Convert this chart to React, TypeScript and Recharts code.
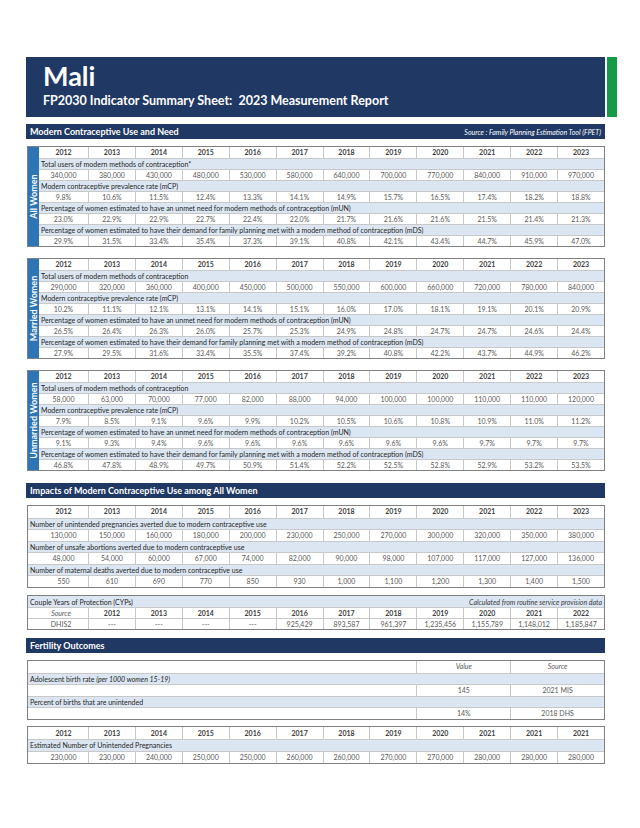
import React from 'react';
import { Surface, Text } from 'recharts';

const years = ['2012', '2013', '2014', '2015', '2016', '2017', '2018', '2019', '2020', '2021', '2022', '2023'];

const allUsers = [340000, 380000, 430000, 480000, 530000, 580000, 640000, 700000, 770000, 840000, 910000, 970000];
const allMcp = [9.8, 10.6, 11.5, 12.4, 13.3, 14.1, 14.9, 15.7, 16.5, 17.4, 18.2, 18.8];
const allMun = [23.0, 22.9, 22.9, 22.7, 22.4, 22.0, 21.7, 21.6, 21.6, 21.5, 21.4, 21.3];
const allMds = [29.9, 31.5, 33.4, 35.4, 37.3, 39.1, 40.8, 42.1, 43.4, 44.7, 45.9, 47.0];

const marUsers = [290000, 320000, 360000, 400000, 450000, 500000, 550000, 600000, 660000, 720000, 780000, 840000];
const marMcp = [10.2, 11.1, 12.1, 13.1, 14.1, 15.1, 16.0, 17.0, 18.1, 19.1, 20.1, 20.9];
const marMun = [26.5, 26.4, 26.3, 26.0, 25.7, 25.3, 24.9, 24.8, 24.7, 24.7, 24.6, 24.4];
const marMds = [27.9, 29.5, 31.6, 33.4, 35.5, 37.4, 39.2, 40.8, 42.2, 43.7, 44.9, 46.2];

const unmUsers = [58000, 63000, 70000, 77000, 82000, 88000, 94000, 100000, 100000, 110000, 110000, 120000];
const unmMcp = [7.9, 8.5, 9.1, 9.6, 9.9, 10.2, 10.5, 10.6, 10.8, 10.9, 11.0, 11.2];
const unmMun = [9.1, 9.3, 9.4, 9.6, 9.6, 9.6, 9.6, 9.6, 9.6, 9.7, 9.7, 9.7];
const unmMds = [46.8, 47.8, 48.9, 49.7, 50.9, 51.4, 52.2, 52.5, 52.8, 52.9, 53.2, 53.5];

const pregAverted = [130000, 150000, 160000, 180000, 200000, 230000, 250000, 270000, 300000, 320000, 350000, 380000];
const abortAverted = [48000, 54000, 60000, 67000, 74000, 82000, 90000, 98000, 107000, 117000, 127000, 136000];
const deathsAverted = [550, 610, 690, 770, 850, 930, 1000, 1100, 1200, 1300, 1400, 1500];

const cypYears = ['2012', '2013', '2014', '2015', '2016', '2017', '2018', '2019', '2020', '2021', '2022'];
const cypValues = [null, null, null, null, 925429, 893587, 961397, 1235456, 1155789, 1148012, 1185847];

const unintYears = ['2012', '2013', '2014', '2015', '2016', '2017', '2018', '2019', '2020', '2021', '2021', '2021'];
const unintPreg = [230000, 230000, 240000, 250000, 250000, 260000, 260000, 270000, 270000, 280000, 280000, 280000];

const NAVY = '#1f3864';
const LIGHT = '#dce6f2';
const GRID = '#c8c8c8';
const FONT = 'Lato, "Open Sans", sans-serif';
const LEFT = 27;
const WIDTH = 578;
const FIRST = 60;
const COL = (WIDTH - 2 - FIRST) / 11;

const num = (v: number) => v.toLocaleString('en-US');
const pct = (v: number) => v.toFixed(1) + '%';

function SectionBar({ top, title, note }: { top: number; title: string; note?: string }) {
  return (
    <div style={{ position: 'absolute', left: 26, top, width: 579, height: 15, background: NAVY, color: '#fff', display: 'flex', alignItems: 'center', justifyContent: 'space-between', boxSizing: 'border-box', padding: '0 4px' }}>
      <span style={{ fontSize: 9, fontWeight: 700 }}>{title}</span>
      {note && <span style={{ fontSize: 7, fontStyle: 'italic' }}>{note}</span>}
    </div>
  );
}

// 12 cells: the first one is wider (it sits over the side label gutter)
function ValueRow({ values, h, bold, color, top }: { values: string[]; h: number; bold?: boolean; color?: string; top?: boolean }) {
  return (
    <div style={{ display: 'flex', height: h, background: '#fff', borderTop: top ? 'none' : `1px solid ${GRID}`, boxSizing: 'border-box' }}>
      {values.map((v, i) => (
        <div key={i} style={{ flex: 'none', width: i === 0 ? FIRST : COL, paddingLeft: i === 0 ? 11 : 0, boxSizing: 'border-box', borderLeft: i === 0 ? 'none' : `1px solid ${GRID}`, textAlign: 'center', lineHeight: `${h - (top ? 0 : 1)}px`, fontSize: 7, fontWeight: bold ? 700 : 400, color: color ?? '#595959', whiteSpace: 'nowrap' }}>
          {v}
        </div>
      ))}
    </div>
  );
}

function LabelRow({ text, h, children, pad = 2 }: { text?: string; h: number; children?: React.ReactNode; pad?: number }) {
  return (
    <div style={{ height: h, background: LIGHT, borderTop: `1px solid ${GRID}`, boxSizing: 'border-box', paddingLeft: pad, fontSize: 7, lineHeight: `${h - 1}px`, color: '#262626', whiteSpace: 'nowrap' }}>
      {text}
      {children}
    </div>
  );
}

function GroupTable({ top, label, users, mcp, mun, mds, star }: { top: number; label: string; users: number[]; mcp: number[]; mun: number[]; mds: number[]; star?: boolean }) {
  const h = 11;
  const inner = h * 9;
  return (
    <div style={{ position: 'absolute', left: LEFT, top, width: WIDTH, height: inner + 2, border: '1px solid #808080', boxSizing: 'border-box' }}>
      <ValueRow values={years} h={h} bold color="#404040" top />
      <LabelRow h={h} pad={13} text={'Total users of modern methods of contraception' + (star ? '*' : '')} />
      <ValueRow values={users.map(num)} h={h} />
      <LabelRow h={h} pad={13} text="Modern contraceptive prevalence rate (mCP)" />
      <ValueRow values={mcp.map(pct)} h={h} />
      <LabelRow h={h} pad={13} text="Percentage of women estimated to have an unmet need  for modern methods of contraception (mUN)" />
      <ValueRow values={mun.map(pct)} h={h} />
      <LabelRow h={h} pad={13} text="Percentage of women estimated to have their demand for family planning met with a modern method of contraception (mDS)" />
      <ValueRow values={mds.map(pct)} h={h} />
      <div style={{ position: 'absolute', left: 0, top: 0, width: 11, height: inner, background: '#2e75b6' }}>
        <Surface width={11} height={inner}>
          <Text x={5.5} y={inner / 2} angle={-90} textAnchor="middle" verticalAnchor="middle" fill="#fff" fontSize={9} fontWeight={700} fontFamily={FONT}>
            {label}
          </Text>
        </Surface>
      </div>
    </div>
  );
}

export default function App() {
  const ih = 11.5;
  const cell = (i: number): React.CSSProperties => ({ flex: 'none', width: i === 0 ? FIRST : COL, paddingLeft: i === 0 ? 6 : 0, borderLeft: i === 0 ? 'none' : `1px solid ${GRID}`, textAlign: 'center', fontSize: 7, lineHeight: '10px', boxSizing: 'border-box' });
  return (
    <div style={{ position: 'absolute', left: 0, top: 0, width: 640, height: 828, background: '#fff', fontFamily: FONT, overflow: 'hidden' }}>
      <div style={{ position: 'absolute', left: 26, top: 57, width: 579, height: 60, background: NAVY, color: '#fff' }}>
        <div style={{ position: 'absolute', left: 17, top: 2, fontSize: 27, fontWeight: 700 }}>Mali</div>
        <div style={{ position: 'absolute', left: 17, top: 36, fontSize: 12.5, fontWeight: 700, whiteSpace: 'pre' }}>FP2030 Indicator Summary Sheet:  2023 Measurement Report</div>
      </div>
      <div style={{ position: 'absolute', left: 607, top: 57, width: 10, height: 60, background: '#159a47' }} />

      <SectionBar top={124} title="Modern Contraceptive Use and Need" note="Source : Family Planning Estimation Tool (FPET)" />
      <GroupTable top={146} label="All Women" users={allUsers} mcp={allMcp} mun={allMun} mds={allMds} star />
      <GroupTable top={258} label="Married Women" users={marUsers} mcp={marMcp} mun={marMun} mds={marMds} />
      <GroupTable top={370} label="Unmarried Women" users={unmUsers} mcp={unmMcp} mun={unmMun} mds={unmMds} />

      <SectionBar top={483} title="Impacts of Modern Contraceptive Use among All Women" />
      <div style={{ position: 'absolute', left: LEFT, top: 505, width: WIDTH, border: '1px solid #808080', boxSizing: 'border-box' }}>
        <ValueRow values={years} h={ih} bold color="#404040" top />
        <LabelRow h={ih} text="Number of unintended pregnancies averted due to modern contraceptive use" />
        <ValueRow values={pregAverted.map(num)} h={ih} />
        <LabelRow h={ih} text="Number of unsafe abortions averted due to modern contraceptive use" />
        <ValueRow values={abortAverted.map(num)} h={ih} />
        <LabelRow h={ih} text="Number of maternal deaths averted due to modern contraceptive use" />
        <ValueRow values={deathsAverted.map(num)} h={ih} />
      </div>

      <div style={{ position: 'absolute', left: LEFT, top: 595, width: WIDTH, border: '1px solid #808080', boxSizing: 'border-box' }}>
        <div style={{ height: 11, background: LIGHT, display: 'flex', justifyContent: 'space-between', alignItems: 'center', padding: '0 2px', fontSize: 7, color: '#262626' }}>
          <span>Couple Years of Protection (CYPs)</span>
          <span style={{ fontStyle: 'italic', color: '#404040' }}>Calculated from routine service provision data</span>
        </div>
        <div style={{ display: 'flex', height: 11, borderTop: `1px solid ${GRID}`, boxSizing: 'border-box' }}>
          {['Source', ...cypYears].map((v, i) => (
            <div key={i} style={{ ...cell(i), fontWeight: i === 0 ? 400 : 700, fontStyle: i === 0 ? 'italic' : 'normal', color: i === 0 ? '#595959' : '#404040' }}>{v}</div>
          ))}
        </div>
        <div style={{ display: 'flex', height: 11, borderTop: `1px solid ${GRID}`, boxSizing: 'border-box' }}>
          {['DHIS2', ...cypValues.map((v) => (v === null ? '---' : num(v)))].map((v, i) => (
            <div key={i} style={{ ...cell(i), color: '#595959' }}>{v}</div>
          ))}
        </div>
      </div>

      <SectionBar top={638} title="Fertility Outcomes" />
      <div style={{ position: 'absolute', left: LEFT, top: 660, width: WIDTH, border: '1px solid #808080', boxSizing: 'border-box' }}>
        {[
          { label: null, v: 'Value', s: 'Source', head: true },
          { label: 'Adolescent birth rate', italic: ' (per 1000 women 15-19)' },
          { label: null, v: '145', s: '2021 MIS' },
          { label: 'Percent of births that are unintended' },
          { label: null, v: '14%', s: '2018 DHS' },
        ].map((r, i) =>
          r.label !== null ? (
            <LabelRow key={i} h={11.5} text={r.label}>
              {r.italic && <i>{r.italic}</i>}
            </LabelRow>
          ) : (
            <div key={i} style={{ display: 'flex', height: 11.5, borderTop: i === 0 ? 'none' : `1px solid ${GRID}`, boxSizing: 'border-box' }}>
              <div style={{ flex: 'none', width: FIRST + COL * 7 }} />
              {[r.v, r.s].map((t, j) => (
                <div key={j} style={{ flex: 'none', width: COL * 2, borderLeft: `1px solid ${GRID}`, textAlign: 'center', fontSize: 7, lineHeight: '10.5px', color: '#595959', fontStyle: r.head ? 'italic' : 'normal', boxSizing: 'border-box' }}>{t}</div>
              ))}
            </div>
          )
        )}
      </div>

      <div style={{ position: 'absolute', left: LEFT, top: 726, width: WIDTH, border: '1px solid #808080', boxSizing: 'border-box' }}>
        <ValueRow values={unintYears} h={12} bold color="#404040" top />
        <LabelRow h={12} text="Estimated Number of Unintended Pregnancies" />
        <ValueRow values={unintPreg.map(num)} h={12} />
      </div>
    </div>
  );
}
